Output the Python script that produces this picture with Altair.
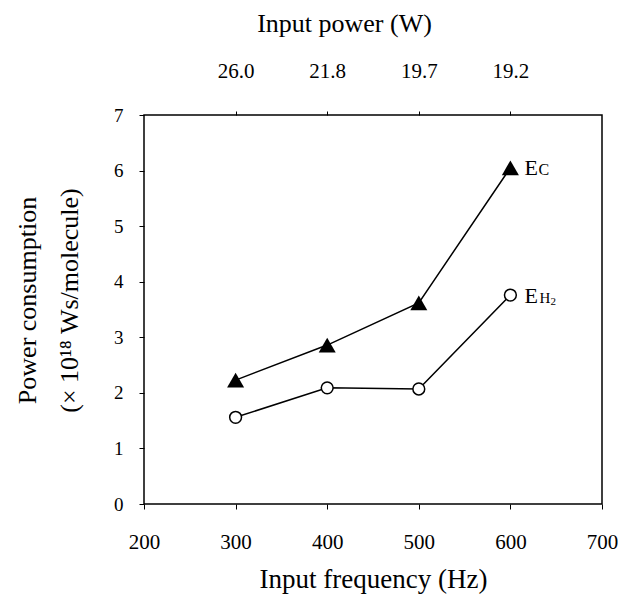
import altair as alt
import pandas as pd

# ---- data ----
freq = [300, 400, 500, 600]
power_w = ["26.0", "21.8", "19.7", "19.2"]
e_c = [2.23, 2.86, 3.62, 6.05]
e_h2 = [1.56, 2.09, 2.07, 3.76]

x_ticks = [200, 300, 400, 500, 600, 700]
y_ticks = [0, 1, 2, 3, 4, 5, 6, 7]

FONT = "Liberation Serif"

df_c = pd.DataFrame({"freq": freq, "val": e_c})
df_h = pd.DataFrame({"freq": freq, "val": e_h2})
df_top = pd.DataFrame({"freq": freq, "power": power_w})

label_expr = " : ".join(
    [f"datum.value == {f} ? '{p}'" for f, p in zip(freq, power_w)]
) + " : ''"

xscale = alt.Scale(domain=[200, 700], nice=False, zero=False)
yscale = alt.Scale(domain=[0, 7], nice=False)

x_bottom = alt.X(
    "freq:Q", scale=xscale,
    axis=alt.Axis(
        title="Input frequency (Hz)", orient="bottom", values=x_ticks,
        grid=False, domain=False, tickSize=5, tickColor="black", tickWidth=1,
        labelFont=FONT, labelFontSize=21, labelColor="black", labelPadding=22,
        labelFlush=False,
        titleFont=FONT, titleFontSize=27, titleFontWeight="normal",
        titleColor="black", titlePadding=14,
    ),
)
x_none = alt.X("freq:Q", scale=xscale, axis=None)
x_top = alt.X(
    "freq:Q", scale=xscale,
    axis=alt.Axis(
        title="Input power (W)", orient="top", values=freq, labelExpr=label_expr,
        grid=False, domain=False, tickSize=4, tickColor="black", tickWidth=1,
        labelFont=FONT, labelFontSize=21, labelColor="black", labelPadding=30,
        labelFlush=False,
        titleFont=FONT, titleFontSize=26, titleFontWeight="normal",
        titleColor="black", titlePadding=24, titleX=200,
    ),
)
y_left = alt.Y(
    "val:Q", scale=yscale,
    axis=alt.Axis(
        title=["Power consumption", "(× 10¹⁸ Ws/molecule)"], values=y_ticks,
        grid=False, domain=False, tickSize=5, tickColor="black", tickWidth=1,
        labelFont=FONT, labelFontSize=19, labelColor="black", labelPadding=16,
        labelFlush=False,
        titleFont=FONT, titleFontSize=26, titleFontWeight="normal",
        titleColor="black", titlePadding=31, titleLineHeight=42, titleY=185,
    ),
)

line_c = alt.Chart(df_c).mark_line(color="black", strokeWidth=1.5).encode(x=x_bottom, y=y_left)
pts_c = alt.Chart(df_c).mark_point(
    shape="triangle-up", filled=True, color="black", size=290, opacity=1
).encode(x=x_none, y=y_left)
line_h = alt.Chart(df_h).mark_line(color="black", strokeWidth=1.5).encode(x=x_none, y=y_left)
pts_h = alt.Chart(df_h).mark_point(
    shape="circle", filled=False, fill="white", fillOpacity=1, stroke="black",
    strokeWidth=1.5, size=140, opacity=1
).encode(x=x_none, y=y_left)

top_axis = alt.Chart(df_top).mark_point(opacity=0).encode(x=x_top, y=alt.value(0))

# series labels (E with small subscripts), positioned at the last data point
lab_c = df_c.iloc[[-1]]
lab_h = df_h.iloc[[-1]]
E_c = alt.Chart(lab_c).mark_text(text="E", font=FONT, fontSize=22, align="left",
                                 baseline="alphabetic", dx=14, dy=7, color="black").encode(x=x_none, y=y_left)
C_c = alt.Chart(lab_c).mark_text(text="C", font=FONT, fontSize=16, align="left",
                                 baseline="alphabetic", dx=28, dy=7, color="black").encode(x=x_none, y=y_left)
E_h = alt.Chart(lab_h).mark_text(text="E", font=FONT, fontSize=22, align="left",
                                 baseline="alphabetic", dx=14, dy=8, color="black").encode(x=x_none, y=y_left)
H_h = alt.Chart(lab_h).mark_text(text="H", font=FONT, fontSize=15, align="left",
                                 baseline="alphabetic", dx=29, dy=8, color="black").encode(x=x_none, y=y_left)
two_h = alt.Chart(lab_h).mark_text(text="2", font=FONT, fontSize=11, align="left",
                                   baseline="alphabetic", dx=40, dy=10, color="black").encode(x=x_none, y=y_left)

chart = alt.layer(
    line_c, line_h, pts_c, pts_h, top_axis, E_c, C_c, E_h, H_h, two_h
).resolve_axis(x="independent").properties(
    width=458, height=389,
    autosize=alt.AutoSizeParams(type="none"),
    padding={"left": 136, "top": 107, "right": 16, "bottom": 91},
    background="white",
).configure_view(stroke="black", strokeWidth=1.5)

chart.save("out.html", embed_options={"renderer": "svg", "actions": False})
